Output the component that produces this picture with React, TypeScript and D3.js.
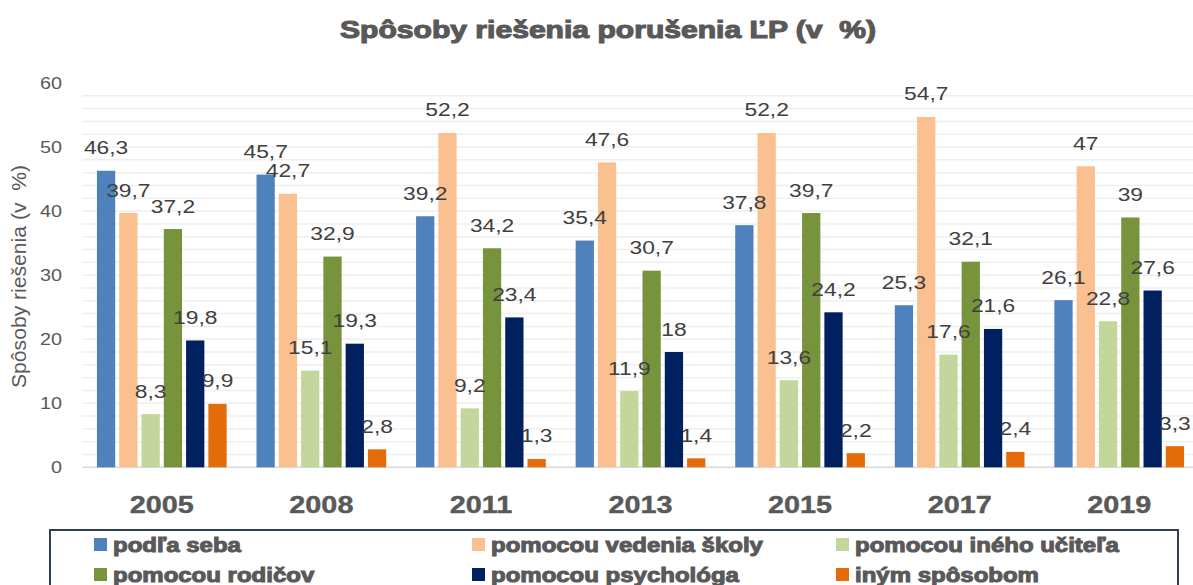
import React from 'react';
import * as d3 from 'd3';

const years = ['2005', '2008', '2011', '2013', '2015', '2017', '2019'];
const seriesNames = [
  'podľa seba',
  'pomocou vedenia školy',
  'pomocou iného učiteľa',
  'pomocou rodičov',
  'pomocou psychológa',
  'iným spôsobom',
];
const seriesColors = ['#4f81bd', '#fac090', '#c3d69b', '#77933c', '#002060', '#e36c09'];

const podlaSeba = [46.3, 45.7, 39.2, 35.4, 37.8, 25.3, 26.1];
const vedeniaSkoly = [39.7, 42.7, 52.2, 47.6, 52.2, 54.7, 47];
const inehoUcitela = [8.3, 15.1, 9.2, 11.9, 13.6, 17.6, 22.8];
const rodicov = [37.2, 32.9, 34.2, 30.7, 39.7, 32.1, 39];
const psychologa = [19.8, 19.3, 23.4, 18, 24.2, 21.6, 27.6];
const inymSposobom = [9.9, 2.8, 1.3, 1.4, 2.2, 2.4, 3.3];

const seriesValues = [podlaSeba, vedeniaSkoly, inehoUcitela, rodicov, psychologa, inymSposobom];
const yTicks = [0, 10, 20, 30, 40, 50, 60];

const W = 1193;
const H = 585;
const textGray = '#595959';
const labelGray = '#404040';
const FONT = "'Liberation Sans', Arial, sans-serif";

// the original chart is horizontally stretched, so text is too
function SText({ x, y, sx = 1.2, children, ...rest }: any) {
  return (
    <g transform={`translate(${x},${y}) scale(${sx},1)`}>
      <text x={0} y={0} style={{ whiteSpace: 'pre' }} {...rest}>
        {children}
      </text>
    </g>
  );
}

export default function App() {
  const x0 = d3.scaleBand<string>().domain(years).range([82, 1199]).padding(0);
  const x1 = d3
    .scaleBand<number>()
    .domain(d3.range(seriesNames.length))
    .range([0, x0.bandwidth()])
    .paddingInner(0.18)
    .paddingOuter(0.67);
  const y = d3.scaleLinear().domain([0, 60]).range([467.3, 83]);

  const gridVals = d3.range(2, 60, 2);
  const fmt = (v: number) => String(v).replace('.', ',');

  const legendCols = [94, 472, 836];
  const legendRows = [545, 575];

  return (
    <svg
      width={W}
      height={H}
      style={{ position: 'absolute', left: 0, top: 0, background: '#fff' }}
      fontFamily={FONT}
    >
      <rect width={W} height={H} fill="#fff" />

      {/* title */}
      <text
        x={608}
        y={38}
        textAnchor="middle"
        fontSize={24}
        fontWeight="bold"
        fill={textGray}
        stroke={textGray}
        strokeWidth={1.1}
        textLength={536}
        lengthAdjust="spacingAndGlyphs"
        style={{ whiteSpace: 'pre' }}
      >
        Spôsoby riešenia porušenia ĽP (v  %)
      </text>

      {/* gridlines */}
      {gridVals.map((v) => (
        <line key={v} x1={82} x2={W} y1={y(v)} y2={y(v)} stroke="#efefef" strokeWidth={1.5} />
      ))}
      <line x1={82} x2={W} y1={y(0)} y2={y(0)} stroke="#d9d9d9" strokeWidth={1.5} />

      {/* y tick labels */}
      {yTicks.map((t) => (
        <SText key={t} x={62} y={y(t)} dy="0.36em" textAnchor="end" fontSize={16.5} fill={textGray}>
          {t}
        </SText>
      ))}

      {/* y axis title */}
      <g transform={`translate(26,${(165 + 388) / 2}) rotate(-90) scale(1,1.2)`}>
        <text
          x={0}
          y={0}
          textAnchor="middle"
          fontSize={17}
          fill={textGray}
          textLength={223}
          lengthAdjust="spacingAndGlyphs"
          style={{ whiteSpace: 'pre' }}
        >
          Spôsoby riešenia (v  %)
        </text>
      </g>

      {/* bars and labels */}
      {years.map((yr, i) => (
        <g key={yr} transform={`translate(${x0(yr)},0)`}>
          {seriesValues.map((vals, s) => (
            <rect
              key={s}
              x={x1(s)}
              y={y(vals[i])}
              width={x1.bandwidth()}
              height={y(0) - y(vals[i])}
              fill={seriesColors[s]}
            />
          ))}
          {seriesValues.map((vals, s) => (
            <SText
              key={'l' + s}
              x={(x1(s) as number) + x1.bandwidth() / 2}
              y={y(vals[i]) - 16.5}
              textAnchor="middle"
              fontSize={19}
              fill={labelGray}
            >
              {fmt(vals[i])}
            </SText>
          ))}
          <SText
            x={x0.bandwidth() / 2}
            y={513}
            textAnchor="middle"
            fontSize={24}
            fontWeight="bold"
            fill={textGray}
            stroke={textGray}
            strokeWidth={0.4}
          >
            {yr}
          </SText>
        </g>
      ))}

      {/* legend */}
      <rect x={50} y={530} width={1128} height={70} fill="#fff" stroke="#2e3f55" strokeWidth={2} />
      {seriesNames.map((name, s) => {
        const cx = legendCols[s % 3];
        const cy = legendRows[Math.floor(s / 3)];
        return (
          <g key={name}>
            <rect x={cx} y={cy - 7} width={13} height={13} fill={seriesColors[s]} />
            <SText
              x={cx + 19}
              y={cy}
              dy="0.35em"
              fontSize={20}
              fontWeight="bold"
              fill={textGray}
              stroke={textGray}
              strokeWidth={1}
            >
              {name}
            </SText>
          </g>
        );
      })}
    </svg>
  );
}
